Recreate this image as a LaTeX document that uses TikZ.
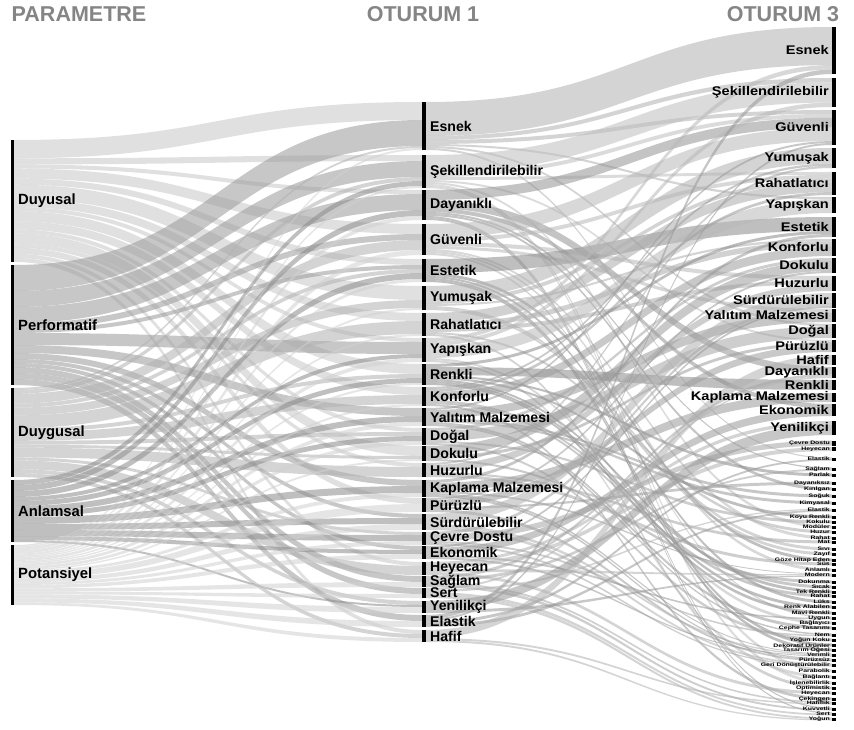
\documentclass[tikz,border=0pt]{standalone}
\usepackage{fontspec}
\setmainfont{Liberation Sans}
\usetikzlibrary{calc}
\definecolor{hdrgray}{HTML}{858585}
\newcommand\sknode[6]{%
  \expandafter\xdef\csname nx@#1\endcsname{#2}%
  \expandafter\xdef\csname ny@#1\endcsname{#3}%
  \expandafter\xdef\csname nh@#1\endcsname{#4}%
  \expandafter\xdef\csname nw@#1\endcsname{#5}%
  \expandafter\xdef\csname col@#1\endcsname{#6}%
  \expandafter\xdef\csname vin@#1\endcsname{0}%
  \expandafter\xdef\csname vout@#1\endcsname{0}%
  \expandafter\xdef\csname oin@#1\endcsname{#3}%
  \expandafter\xdef\csname oout@#1\endcsname{#3}%
}
\newcommand\skpassone[1]{\foreach \fs/\ft/\fw in #1 {%
  \edef\fqa{\csname vout@\fs\endcsname}\pgfmathsetmacro\fqb{\fqa+\fw}%
  \expandafter\xdef\csname vout@\fs\endcsname{\fqb}%
  \edef\fqa{\csname vin@\ft\endcsname}\pgfmathsetmacro\fqb{\fqa+\fw}%
  \expandafter\xdef\csname vin@\ft\endcsname{\fqb}%
}}
\newcommand\skdraw[1]{\foreach \fs/\ft/\fw in #1 {%
  \edef\fqvo{\csname vout@\fs\endcsname}\edef\fqvi{\csname vin@\ft\endcsname}%
  \edef\fqhs{\csname nh@\fs\endcsname}\edef\fqht{\csname nh@\ft\endcsname}%
  \edef\fqya{\csname oout@\fs\endcsname}\edef\fqyb{\csname oin@\ft\endcsname}%
  \pgfmathsetmacro\fqwa{\fw*\fqhs/\fqvo}%
  \pgfmathsetmacro\fqwb{\fw*\fqht/\fqvi}%
  \pgfmathsetmacro\fqyaa{\fqya+\fqwa}\pgfmathsetmacro\fqybb{\fqyb+\fqwb}%
  \expandafter\xdef\csname oout@\fs\endcsname{\fqyaa}%
  \expandafter\xdef\csname oin@\ft\endcsname{\fqybb}%
  \edef\fqxs{\csname nx@\fs\endcsname}\edef\fqws{\csname nw@\fs\endcsname}%
  \pgfmathsetmacro\fqxa{\fqxs+\fqws}%
  \edef\fqxb{\csname nx@\ft\endcsname}%
  \pgfmathsetmacro\fqxm{(\fqxa+\fqxb)/2}%
  \edef\fqcl{\csname col@\fs\endcsname}%
  \fill[flowst,fill=\fqcl] (\fqxa,\fqya) .. controls (\fqxm,\fqya) and (\fqxm,\fqyb) .. (\fqxb,\fqyb)
     -- (\fqxb,\fqybb) .. controls (\fqxm,\fqybb) and (\fqxm,\fqyaa) .. (\fqxa,\fqyaa) -- cycle;
}}
\def\Lnodes{L1/140/122/black!22,L2/265/120/black!40,L3/388/89/black!30,L4/480/62/black!45,L5/545/60/black!18}
\def\Mnodes{M1/102/48/black!30,M2/155/33/black!25,M3/190/30/black!42,M4/224/31/black!28,%
M5/259/23/black!45,M6/286/24/black!30,M7/313/23/black!32,M8/338/24/black!28,M9/364/21/black!45,%
M10/387/19/black!38,M11/408/18/black!40,M12/428/17/black!35,M13/446/15/black!38,M14/463/14/black!35,%
M15/480/17/black!40,M16/498/14/black!38,M17/514/16/black!30,M18/532/13/black!35,M19/546/13/black!40,%
M20/562/13/black!30,M21/576/11/black!35,M22/588/10/black!30,M23/601/12/black!40,M24/615/12/black!40,%
M25/630/12/black!30}
\def\Rnodes{R1/27/47,R2/78/29,R3/110/35,R4/148/20,R5/172/23,R6/197/16,R7/217/20,R8/239/17,%
R9/258/15,R10/276/15,R11/293/15,R12/309/13,R13/324/14,R14/340/12,R15/355/10,R16/367/11,%
R17/380/10,R18/393/9,R19/404/12,R20/421/14}
\def\Snodes{S1/443/5/Çevre Dostu,S2/449/4/Heyecan,S3/459/3/Elastik,S4/469/3/Sağlam,S5/475/3/Parlak,%
S6/483/3/Dayanıksız,S7/489/3/Kırılgan,S8/496/3/Soğuk,S9/503/3/Kimyasal,S10/510/3/Elastik,%
S11/517/3/Koyu Renkli,S12/522/3/Kokulu,S13/527/3/Modüler,S14/532/3/Huzur,S15/538/3/Rahat,%
S16/542/3/Mat,S17/549/3/Sıvı,S18/554/3/Zayıf,S19/560/3/Göze Hitap Eden,S20/564/3/Süs,%
S21/570/3/Anlamlı,S22/575/3/Modern,S23/582/3/Dokunma,S24/587/3/Sıcak,S25/592/3/Tek Renkli,%
S26/596/3/Rahat,S27/602/3/Lüks,S28/607/3/Renk Alabilen,S29/613/3/Mavi Renkli,S30/618/3/Uygun,%
S31/623/3/Bağlayıcı,S32/628/3/Cephe Tasarımı,S33/635/3/Nem,S34/640/3/Yoğun Koku,%
S35/645/3/Dekoratif Ürünler,S36/650/3/Tasarım Öğesi,S37/655/3/Verimli,S38/660/3/Pürüzsüz,%
S39/665/3/Geri Dönüştürülebilir,S40/671/3/Parabolik,S41/677/3/Bağlantı,S42/683/3/İşlenebilirlik,%
S43/688/3/Optimistik,S44/693/3/Heyecan,S45/699/3/Çekingen,S46/703/3/Hafiflik,S47/709/3/Kuvvetli,%
S48/714/3/Sert,S49/719/3/Yoğun}
\def\Llabels{L1/Duyusal,L2/Performatif,L3/Duygusal,L4/Anlamsal,L5/Potansiyel}
\def\Mlabels{M1/Esnek,M2/Şekillendirilebilir,M3/Dayanıklı,M4/Güvenli,M5/Estetik,M6/Yumuşak,%
M7/Rahatlatıcı,M8/Yapışkan,M9/Renkli,M10/Konforlu,M11/Yalıtım Malzemesi,M12/Doğal,M13/Dokulu,%
M14/Huzurlu,M15/Kaplama Malzemesi,M16/Pürüzlü,M17/Sürdürülebilir,M18/Çevre Dostu,M19/Ekonomik,%
M20/Heyecan,M21/Sağlam,M22/Sert,M23/Yenilikçi,M24/Elastik,M25/Hafif}
\def\Rlabels{R1/Esnek,R2/Şekillendirilebilir,R3/Güvenli,R4/Yumuşak,R5/Rahatlatıcı,R6/Yapışkan,%
R7/Estetik,R8/Konforlu,R9/Dokulu,R10/Huzurlu,R11/Sürdürülebilir,R12/Yalıtım Malzemesi,R13/Doğal,%
R14/Pürüzlü,R15/Hafif,R16/Dayanıklı,R17/Renkli,R18/Kaplama Malzemesi,R19/Ekonomik,R20/Yenilikçi}
\def\flowsA{L1/M1/18,L1/M2/6,L1/M3/4,L1/M4/10,L1/M5/6,L1/M6/14,L1/M7/8,L1/M8/4,L1/M9/10,L1/M10/8,%
L1/M12/4,L1/M13/10,L1/M14/4,L1/M16/6,L1/M20/4,L1/M25/4,%
L2/M1/26,L2/M2/16,L2/M3/16,L2/M4/6,L2/M5/4,L2/M8/12,L2/M11/8,L2/M15/6,L2/M17/4,L2/M19/4,%
L2/M21/6,L2/M22/6,L2/M24/6,%
L3/M1/2,L3/M2/4,L3/M4/10,L3/M5/4,L3/M6/8,L3/M7/13,L3/M9/4,L3/M10/9,L3/M12/4,L3/M13/3,%
L3/M14/10,L3/M18/3,L3/M20/9,L3/M23/4,L3/M25/4,%
L4/M2/5,L4/M3/6,L4/M5/6,L4/M8/4,L4/M9/5,L4/M11/6,L4/M12/5,L4/M15/7,L4/M17/6,L4/M18/6,%
L4/M19/4,L4/M23/2,%
L5/M1/2,L5/M2/2,L5/M3/4,L5/M4/5,L5/M5/3,L5/M6/2,L5/M7/2,L5/M8/4,L5/M9/2,L5/M10/2,L5/M11/4,%
L5/M12/4,L5/M13/2,L5/M15/4,L5/M16/8,L5/M17/6,L5/M18/4,L5/M19/5,L5/M21/5,L5/M22/4,L5/M23/6,%
L5/M24/6,L5/M25/4}
\def\flowsB{M1/R1/34,M1/R2/4,M1/R3/4,M1/R6/2,M1/R13/2,M1/S3/2,%
M2/R2/18,M2/R3/4,M2/R5/3,M2/R14/2,M2/S13/2,M2/S40/2,M2/S42/2,%
M3/R3/10,M3/R16/8,M3/R19/4,M3/S4/2,M3/S7/2,M3/S47/2,M3/S48/2,%
M4/R3/14,M4/R5/4,M4/R10/4,M4/R12/3,M4/S15/2,M4/S21/2,M4/S30/2,%
M5/R7/14,M5/S19/3,M5/S27/2,M5/S35/2,M5/S36/2,%
M6/R4/14,M6/R5/4,M6/R8/2,M6/S17/2,M6/S18/2,%
M7/R5/10,M7/R8/5,M7/R10/4,M7/S14/2,M7/S43/2,%
M8/R1/4,M8/R2/4,M8/R6/12,M8/S31/2,M8/S41/2,%
M9/R7/3,M9/R17/8,M9/S5/2,M9/S11/2,M9/S25/2,M9/S28/2,M9/S29/2,%
M10/R4/2,M10/R5/3,M10/R8/8,M10/S24/2,M10/S26/2,M10/S45/2,%
M11/R3/2,M11/R12/8,M11/S8/2,M11/S9/2,M11/S32/2,M11/S33/2,%
M12/R9/3,M12/R13/10,M12/S12/2,M12/S34/2,%
M13/R9/10,M13/R14/3,M13/S23/2,%
M14/R4/2,M14/R10/7,M14/S16/2,M14/S20/3,%
M15/R7/3,M15/R18/8,M15/S22/2,M15/S37/2,M15/S38/2,%
M16/R9/2,M16/R14/7,M16/S6/2,M16/S38/3,%
M17/R11/10,M17/S37/3,M17/S39/3,%
M18/R11/3,M18/S1/6,M18/S33/2,M18/S39/2,%
M19/R11/2,M19/R19/7,M19/S30/2,M19/S37/2,%
M20/R20/3,M20/S2/4,M20/S22/3,M20/S44/3,%
M21/R16/3,M21/S4/3,M21/S46/2,M21/S47/3,%
M22/R16/2,M22/S10/2,M22/S48/3,M22/S49/3,%
M23/R20/9,M23/S22/3,%
M24/R1/4,M24/R3/2,M24/S3/3,M24/S10/3,%
M25/R15/8,M25/S46/2,M25/S49/2}
\begin{document}
\begin{tikzpicture}[x=1pt,y=-1pt,
  flowst/.style={fill opacity=0.55},
  barst/.style={fill=black,draw=none,inner sep=0pt,outer sep=0pt},
  hdr/.style={text=hdrgray,font=\fontsize{21.5}{22}\selectfont\bfseries,inner sep=0pt},
  lleft/.style={anchor=west,xshift=4pt,inner sep=0pt,font=\fontsize{14.8}{15}\selectfont\bfseries},
  llab/.style={anchor=west,xshift=4pt,inner sep=0pt,font=\fontsize{14.1}{14}\selectfont\bfseries},
  rlab/.style={anchor=east,xshift=-3pt,inner sep=0pt,font=\fontsize{14.6}{15}\selectfont\bfseries},
  slab/.style={anchor=east,xshift=-2pt,inner sep=0pt,font=\fontsize{6.9}{7}\selectfont\bfseries}]
\fill[white] (0,0) rectangle (854,730);
\useasboundingbox (0,0) rectangle (854,730);
\foreach \qid/\qy/\qh/\qc in \Lnodes {\sknode{\qid}{11}{\qy}{\qh}{3}{\qc}}
\foreach \qid/\qy/\qh/\qc in \Mnodes {\sknode{\qid}{422}{\qy}{\qh}{4}{\qc}}
\foreach \qid/\qy/\qh in \Rnodes {\sknode{\qid}{832}{\qy}{\qh}{4}{black}}
\foreach \qid/\qy/\qh/\qt in \Snodes {\pgfmathsetmacro\qtop{\qy-\qh/2}\sknode{\qid}{832}{\qtop}{\qh}{4}{black}}
\skpassone{\flowsA}
\skpassone{\flowsB}
\skdraw{\flowsA}
\skdraw{\flowsB}
% bars
\foreach \qid/\qy/\qh/\qc in \Lnodes {\node[barst,minimum width=3pt,minimum height=\qh pt] (\qid) at (12.5,\qy+\qh/2) {};}
\foreach \qid/\qy/\qh/\qc in \Mnodes {\node[barst,minimum width=4pt,minimum height=\qh pt] (\qid) at (424,\qy+\qh/2) {};}
\foreach \qid/\qy/\qh in \Rnodes {\node[barst,minimum width=4pt,minimum height=\qh pt] (\qid) at (834,\qy+\qh/2) {};}
\foreach \qid/\qy/\qh/\qt in \Snodes {\node[barst,minimum width=4pt,minimum height=\qh pt] (\qid) at (834,\qy) {};}
% labels
\foreach \qid/\qt in \Llabels {\node[lleft] at (\qid.east) {\qt};}
\foreach \qid/\qt in \Mlabels {\node[llab] at (\qid.east) {\qt};}
\foreach \qid/\qt in \Rlabels {\node[rlab] at (\qid.west) {\scalebox{1}[0.86]{\qt}};}
\foreach \qid/\qy/\qh/\qt in \Snodes {\node[slab] at (\qid.west) {\scalebox{1}[0.72]{\qt}};}
% headers
\node[hdr] (hp) at (79,14) {PARAMETRE};
\node[hdr] (h1) at (423,14) {OTURUM 1};
\node[hdr] (h3) at (783,14) {OTURUM 3};
\end{tikzpicture}
\end{document}
